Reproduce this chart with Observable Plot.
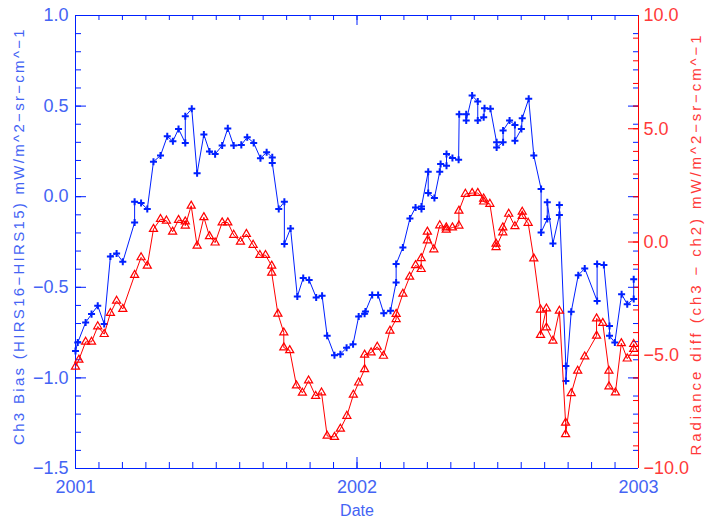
<!DOCTYPE html>
<html><head><meta charset="utf-8">
<script src="https://cdn.jsdelivr.net/npm/d3@7"></script>
<script src="https://cdn.jsdelivr.net/npm/@observablehq/plot@0.6"></script>
<style>
body{margin:0;background:#fff}
#chart svg{display:block}
</style>
</head><body><div id="chart"></div>
<script>
// ---- data (decimal years) ----
const blueDates = [2001.000, 2001.008, 2001.036, 2001.057, 2001.079, 2001.102, 2001.124, 2001.146, 2001.168, 2001.210,
  2001.210, 2001.233, 2001.255, 2001.277, 2001.302, 2001.326, 2001.346, 2001.366, 2001.390, 2001.390,
  2001.413, 2001.432, 2001.456, 2001.476, 2001.496, 2001.521, 2001.541, 2001.562, 2001.589, 2001.610,
  2001.633, 2001.657, 2001.679, 2001.699, 2001.699, 2001.722, 2001.742, 2001.742, 2001.764, 2001.788,
  2001.809, 2001.830, 2001.855, 2001.876, 2001.894, 2001.920, 2001.941, 2001.963, 2001.986, 2002.006,
  2002.027, 2002.030, 2002.054, 2002.075, 2002.095, 2002.119, 2002.139, 2002.139, 2002.163, 2002.188,
  2002.208, 2002.229, 2002.229, 2002.253, 2002.253, 2002.275, 2002.294, 2002.297, 2002.318, 2002.318,
  2002.339, 2002.361, 2002.363, 2002.388, 2002.388, 2002.409, 2002.429, 2002.429, 2002.450, 2002.453,
  2002.474, 2002.496, 2002.496, 2002.519, 2002.519, 2002.542, 2002.561, 2002.561, 2002.584, 2002.587,
  2002.610, 2002.628, 2002.654, 2002.654, 2002.676, 2002.676, 2002.696, 2002.719, 2002.719, 2002.742,
  2002.742, 2002.761, 2002.786, 2002.809, 2002.853, 2002.853, 2002.877, 2002.897, 2002.897, 2002.916,
  2002.940, 2002.960, 2002.983, 2002.983];
const blueValues = [-0.851, -0.805, -0.694, -0.648, -0.602, -0.703, -0.330, -0.313, -0.359, -0.142,
  -0.028, -0.035, -0.068, 0.193, 0.227, 0.333, 0.306, 0.374, 0.297, 0.444,
  0.485, 0.129, 0.343, 0.249, 0.235, 0.282, 0.377, 0.282, 0.286, 0.328,
  0.297, 0.212, 0.245, 0.217, 0.186, -0.068, -0.028, -0.261, -0.175, -0.551,
  -0.449, -0.460, -0.556, -0.547, -0.768, -0.875, -0.869, -0.834, -0.814, -0.661,
  -0.646, -0.633, -0.543, -0.543, -0.643, -0.630, -0.473, -0.372, -0.280, -0.120,
  -0.059, -0.068, -0.054, 0.138, 0.020, -0.007, 0.138, 0.181, 0.171, 0.236,
  0.214, 0.204, 0.455, 0.455, 0.420, 0.558, 0.525, 0.420, 0.438, 0.488,
  0.485, 0.300, 0.272, 0.300, 0.365, 0.420, 0.396, 0.309, 0.374, 0.433,
  0.540, 0.227, 0.043, -0.197, -0.123, -0.031, -0.258, -0.101, -0.046, -0.934,
  -1.017, -0.635, -0.433, -0.396, -0.575, -0.372, -0.377, -0.713, -0.768, -0.805,
  -0.538, -0.593, -0.565, -0.455];

const redDates = [2001.000, 2001.012, 2001.036, 2001.057, 2001.079, 2001.102, 2001.124, 2001.146, 2001.168, 2001.210,
  2001.233, 2001.255, 2001.277, 2001.302, 2001.323, 2001.345, 2001.366, 2001.390, 2001.390, 2001.411,
  2001.432, 2001.456, 2001.476, 2001.496, 2001.521, 2001.541, 2001.562, 2001.586, 2001.607, 2001.631,
  2001.655, 2001.675, 2001.697, 2001.697, 2001.719, 2001.740, 2001.740, 2001.761, 2001.785, 2001.806,
  2001.828, 2001.853, 2001.874, 2001.894, 2001.920, 2001.941, 2001.964, 2001.987, 2002.006, 2002.027,
  2002.027, 2002.050, 2002.072, 2002.094, 2002.117, 2002.139, 2002.139, 2002.163, 2002.187, 2002.208,
  2002.228, 2002.228, 2002.250, 2002.250, 2002.273, 2002.294, 2002.317, 2002.317, 2002.339, 2002.362,
  2002.362, 2002.385, 2002.409, 2002.429, 2002.450, 2002.450, 2002.472, 2002.494, 2002.494, 2002.518,
  2002.518, 2002.539, 2002.561, 2002.587, 2002.587, 2002.608, 2002.628, 2002.652, 2002.652, 2002.673,
  2002.673, 2002.696, 2002.719, 2002.741, 2002.741, 2002.761, 2002.784, 2002.809, 2002.851, 2002.851,
  2002.873, 2002.895, 2002.895, 2002.918, 2002.939, 2002.960, 2002.983, 2002.983];
const redValues = [-5.51, -5.20, -4.41, -4.41, -3.73, -4.07, -3.14, -2.60, -2.96, -1.46,
  -0.68, -1.05, 0.57, 1.01, 0.94, 0.45, 0.97, 0.90, 0.72, 1.60,
  -0.17, 1.09, 0.25, -0.03, 0.86, 0.86, 0.31, 0.01, 0.35, -0.13,
  -0.58, -0.58, -1.05, -1.36, -3.17, -4.00, -4.66, -4.78, -6.34, -6.66,
  -6.12, -6.80, -6.65, -8.56, -8.61, -8.25, -7.68, -6.75, -6.21, -5.62,
  -4.98, -4.88, -4.63, -5.03, -3.92, -3.41, -3.18, -2.29, -1.54, -1.03,
  -1.20, -0.72, 0.06, 0.45, -0.33, 0.73, 0.64, 0.54, 0.64, 0.72,
  1.38, 2.12, 2.16, 2.16, 1.91, 1.78, 1.68, -0.08, -0.23, 0.42,
  0.64, 1.24, 0.69, 1.33, 1.15, 0.84, -0.73, -2.99, -4.11, -2.94,
  -3.78, -4.36, -3.04, -7.98, -8.49, -6.68, -5.69, -5.06, -4.14, -3.38,
  -3.58, -5.69, -6.38, -6.65, -4.47, -5.15, -4.73, -4.51];

const yearTicks = [2001, 2002, 2003];
const leftTicks = [-1.5, -1.0, -0.5, 0.0, 0.5, 1.0];
const rightTicks = [-10, -5, 0, 5, 10];
const leftTitle = "Ch3 Bias (HIRS16\u2212HIRS15) mW/m^2\u2212sr\u2212cm^\u22121";
const rightTitle = "Radiance diff (ch3 \u2212 ch2) mW/m^2\u2212sr\u2212cm^\u22121";
const xTitle = "Date";

// ---- styling / layout ----
const BLUE = "#0020ff", BLUE_TEXT = "#4464f4", RED = "#ff0000", RED_TEXT = "#ff3a3a";
const W = 707, H = 526, mL = 75, mR = 69, mT = 15, mB = 58;
const innerW = W - mL - mR, innerH = H - mT - mB;
const FONT = "'Liberation Sans', sans-serif";

// secondary (right) axis: radiance diff domain mapped onto the left scale
const redToLeft = d3.scaleLinear().domain([-10, 10]).range([-1.5, 1.0]);

const blue = blueDates.map((d, i) => ({date: d, value: blueValues[i]}));
const red = redDates.map((d, i) => ({date: d, value: redValues[i]}));

const minorLeft = d3.range(-15, 11).map(k => k / 10);
const minorRight = d3.range(-10, 11).map(k => redToLeft(k));
const majorRight = rightTicks.map(k => redToLeft(k));
const minorX = d3.range(0, 25).map(k => 2001 + k / 12);
const fmt = d3.format(".1f");

const chart = Plot.plot({
  width: W, height: H,
  marginLeft: mL, marginRight: mR, marginTop: mT, marginBottom: mB,
  style: {fontFamily: FONT, fontSize: "18px", background: "white", overflow: "visible"},
  x: {type: "linear", domain: [2001, 2003]},
  y: {type: "linear", domain: [-1.5, 1.0]},
  marks: [
    // inward ticks, left axis (blue)
    Plot.tickY(minorLeft, {y: d => d, stroke: BLUE, insetRight: innerW - 6}),
    Plot.tickY(leftTicks, {y: d => d, stroke: BLUE, insetRight: innerW - 11}),
    // mirrored blue ticks on right side
    Plot.tickY(minorLeft, {y: d => d, stroke: BLUE, insetLeft: innerW - 5}),
    Plot.tickY(leftTicks, {y: d => d, stroke: BLUE, insetLeft: innerW - 10}),
    // red right axis ticks
    Plot.tickY(minorRight, {y: d => d, stroke: RED, insetLeft: innerW - 5}),
    Plot.tickY(majorRight, {y: d => d, stroke: RED, insetLeft: innerW - 10}),
    // x ticks bottom and top
    Plot.tickX(minorX, {x: d => d, stroke: BLUE, insetTop: innerH - 6}),
    Plot.tickX(yearTicks, {x: d => d, stroke: BLUE, insetTop: innerH - 11}),
    Plot.tickX(minorX, {x: d => d, stroke: BLUE, insetBottom: innerH - 5}),
    Plot.tickX(yearTicks, {x: d => d, stroke: BLUE, insetBottom: innerH - 10}),
    // frame
    Plot.ruleX([2001], {stroke: BLUE}),
    Plot.ruleY([-1.5, 1.0], {stroke: BLUE}),
    Plot.ruleX([2003], {stroke: RED}),
    // series
    Plot.line(blue, {x: "date", y: "value", stroke: BLUE, strokeWidth: 1}),
    Plot.dot(blue, {x: "date", y: "value", symbol: "plus", r: 2.4, stroke: BLUE, strokeWidth: 2}),
    Plot.line(red, {x: "date", y: d => redToLeft(d.value), stroke: RED, strokeWidth: 1}),
    Plot.dot(red, {x: "date", y: d => redToLeft(d.value), symbol: "triangle", r: 3.0, stroke: RED, strokeWidth: 1.2, fill: "none"}),
    // axes labels
    Plot.axisY(leftTicks, {anchor: "left", tickSize: 0, tickPadding: 7, tickFormat: fmt, fill: BLUE_TEXT, label: null}),
    Plot.axisY(majorRight, {anchor: "right", tickSize: 0, tickPadding: 5, tickFormat: v => fmt(redToLeft.invert(v)), fill: RED_TEXT, label: null}),
    Plot.axisX(yearTicks, {anchor: "bottom", tickSize: 0, tickPadding: 12, tickFormat: d => String(d), fill: BLUE_TEXT, label: null}),
    // titles
    Plot.text([leftTitle], {text: d => d, frameAnchor: "left", dx: -56, dy: -6, rotate: -90, textAnchor: "middle", lineAnchor: "middle", fill: BLUE_TEXT, fontSize: 15}),
    Plot.text([rightTitle], {text: d => d, frameAnchor: "right", dx: 58, dy: 2, rotate: -90, textAnchor: "middle", lineAnchor: "middle", fill: RED_TEXT, fontSize: 15}),
    Plot.text([xTitle], {text: d => d, frameAnchor: "bottom", dy: 47, textAnchor: "middle", fill: BLUE_TEXT, fontSize: 16})
  ]
});
// wider letter spacing on the rotated axis titles (mimics the original vector font)
d3.select(chart).selectAll("text").each(function() {
  if (this.textContent === leftTitle) this.style.letterSpacing = "2.3px";
  if (this.textContent === rightTitle) this.style.letterSpacing = "2.9px";
});
document.getElementById("chart").appendChild(chart);
</script>
</body></html>
